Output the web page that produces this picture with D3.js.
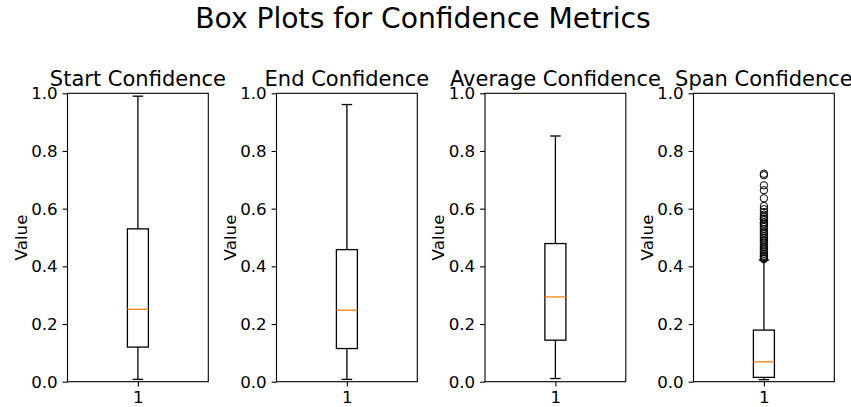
<!DOCTYPE html>
<html>
<head>
<meta charset="utf-8">
<script src="https://cdn.jsdelivr.net/npm/d3@7"></script>
<style>
  body { margin: 0; background: #fff; }
  text { font-family: "DejaVu Sans", sans-serif; fill: #000; }
</style>
</head>
<body>
<svg id="chart" width="851" height="407"></svg>
<script>
// ---- data ----
const panelTitles = ["Start Confidence", "End Confidence", "Average Confidence", "Span Confidence"];
const whiskerLow  = [0.008, 0.008, 0.011, 0.007];
const q1Values    = [0.120, 0.115, 0.144, 0.015];
const medians     = [0.251, 0.248, 0.294, 0.069];
const q3Values    = [0.530, 0.458, 0.479, 0.179];
const whiskerHigh = [0.990, 0.961, 0.852, 0.422];
const spanOutliers = [0.721, 0.716, 0.681, 0.664, 0.636, 0.609, 0.598, 0.588, 0.579, 0.572,
  0.566, 0.561, 0.553, 0.548, 0.541, 0.536, 0.529, 0.522, 0.517, 0.511, 0.504, 0.498,
  0.491, 0.486, 0.479, 0.472, 0.466, 0.461, 0.455, 0.449, 0.443, 0.437, 0.433, 0.428, 0.425];
const outliers = [[], [], [], spanOutliers];
const yTicks = [0, 0.2, 0.4, 0.6, 0.8, 1.0];
const xTickLabels = ["1"];
const mainTitle = "Box Plots for Confidence Metrics";
const yLabel = "Value";

// ---- layout ----
const svg = d3.select("#chart");
const axLefts = [67.5, 276.5, 485, 693.5];
const axW = 140.8, axTop = 93.3, axBottom = 381.7;
const boxW = 21, capW = 10.5;
const tickLen = 4.9, tickPad = 4.9;

svg.append("text")
  .attr("x", 423).attr("y", 27.5)
  .attr("text-anchor", "middle")
  .style("font-size", "28.2px")
  .text(mainTitle);

const y = d3.scaleLinear().domain([0, 1]).range([axBottom, axTop]);

panelTitles.forEach((title, i) => {
  const left = axLefts[i];
  const x = d3.scalePoint().domain(xTickLabels).range([left, left + axW]).padding(0.5);
  const g = svg.append("g");
  const cx = x("1");

  // y axis ticks
  const ya = g.append("g").attr("transform", `translate(${left},0)`)
    .call(d3.axisLeft(y).tickValues(yTicks).tickFormat(d3.format(".1f"))
      .tickSize(tickLen).tickPadding(tickPad).tickSizeOuter(0));
  ya.select(".domain").remove();
  ya.selectAll("line").attr("stroke", "#000").attr("stroke-width", 1.1);
  ya.selectAll("text").style("font-size", "16.7px").attr("font-family", "DejaVu Sans");

  // x axis tick
  const xa = g.append("g").attr("transform", `translate(0,${axBottom})`)
    .call(d3.axisBottom(x).tickSize(tickLen).tickPadding(tickPad).tickSizeOuter(0));
  xa.select(".domain").remove();
  xa.selectAll("line").attr("stroke", "#000").attr("stroke-width", 1.1);
  xa.selectAll("text").style("font-size", "16.7px").attr("font-family", "DejaVu Sans");

  // whiskers
  const lo = whiskerLow[i], hi = whiskerHigh[i], q1 = q1Values[i], q3 = q3Values[i], md = medians[i];
  const line = (x1, y1, x2, y2, color) => g.append("line")
    .attr("x1", x1).attr("y1", y1).attr("x2", x2).attr("y2", y2)
    .attr("stroke", color || "#000").attr("stroke-width", 1.3);
  line(cx, y(q3), cx, y(hi));
  line(cx, y(q1), cx, y(lo));
  line(cx - capW / 2, y(hi), cx + capW / 2, y(hi));
  line(cx - capW / 2, y(lo), cx + capW / 2, y(lo));
  g.append("rect")
    .attr("x", cx - boxW / 2).attr("y", y(q3))
    .attr("width", boxW).attr("height", y(q1) - y(q3))
    .attr("stroke", "#000").attr("stroke-width", 1.3).attr("fill", "none");
  line(cx - boxW / 2, y(md), cx + boxW / 2, y(md), "#ff7f0e");

  // outliers
  g.selectAll("circle.fl").data(outliers[i]).join("circle")
    .attr("class", "fl")
    .attr("cx", cx).attr("cy", d => y(d)).attr("r", 3.7)
    .attr("fill", "none").attr("stroke", "#000").attr("stroke-width", 1);

  // frame
  g.append("rect")
    .attr("x", left).attr("y", axTop).attr("width", axW).attr("height", axBottom - axTop)
    .attr("fill", "none").attr("stroke", "#000").attr("stroke-width", 1.1);

  // panel title
  g.append("text")
    .attr("x", left + axW / 2).attr("y", axTop - 7)
    .attr("text-anchor", "middle")
    .style("font-size", "21px")
    .text(title);

  // y label
  g.append("text")
    .attr("transform", `translate(${left - 41},${(axTop + axBottom) / 2}) rotate(-90)`)
    .attr("text-anchor", "middle")
    .style("font-size", "16.7px")
    .text(yLabel);
});
</script>
</body>
</html>
